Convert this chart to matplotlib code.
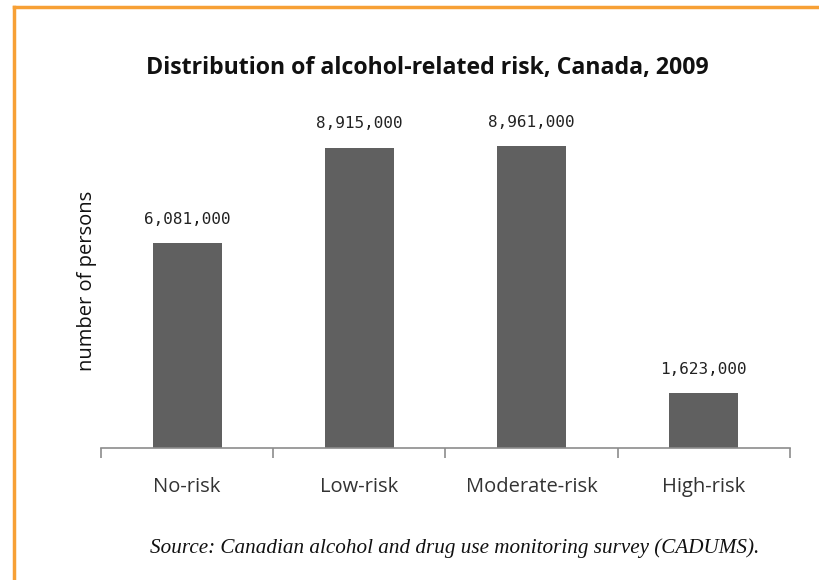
import matplotlib
matplotlib.use("Agg")
import matplotlib.pyplot as plt
from matplotlib.lines import Line2D

categories = ["No-risk", "Low-risk", "Moderate-risk", "High-risk"]
values = [6081000, 8915000, 8961000, 1623000]
value_labels = ["6,081,000", "8,915,000", "8,961,000", "1,623,000"]

fig = plt.figure(figsize=(8.2, 5.8), dpi=100)
W, H = 820, 580
ax = fig.add_axes([101 / W, 1 - 448 / H, (790 - 101) / W, (448 - 111.5) / H])

x = list(range(len(categories)))
ax.bar(x, values, width=0.40, color="#606060", zorder=2)
ax.set_xlim(-0.5, len(categories) - 0.5)
ax.set_ylim(0, 10000000)

for s in ["top", "right", "left"]:
    ax.spines[s].set_visible(False)
ax.spines["bottom"].set_color("#8c8c8c")
ax.spines["bottom"].set_linewidth(1.2)
ax.set_yticks([])
ax.set_xticks([i - 0.5 for i in range(len(categories) + 1)])
ax.set_xticklabels([])
ax.tick_params(axis="x", length=7, color="#8c8c8c", width=1.2, direction="out")
for i, c in enumerate(categories):
    ax.text(i, -0.85e6, c, ha="center", va="top", fontsize=14.5,
            family="Open Sans", color="#333333")

for i, (v, lab) in enumerate(zip(values, value_labels)):
    ax.annotate(lab, (i, v), xytext=(0, 12), textcoords="offset points",
                ha="center", va="bottom", fontsize=11.5, family="DejaVu Sans Mono",
                color="#222222")

fig.text(87 / W, 1 - 281 / H, "number of persons", rotation=90,
         ha="center", va="center", fontsize=14.5, family="Open Sans",
         color="#111111")

fig.text(427 / W, 1 - 68 / H, "Distribution of alcohol-related risk, Canada, 2009",
         ha="center", va="center", fontsize=16.7, fontweight="bold",
         family="Open Sans", color="#111111")

fig.text(455 / W, 1 - 548 / H,
         "Source: Canadian alcohol and drug use monitoring survey (CADUMS).",
         ha="center", va="center", fontsize=15.2, style="italic",
         family="Liberation Serif", color="#111111")

# orange frame (top and left edges visible)
fig.add_artist(Line2D([14.5 / W, 14.5 / W], [0, 1 - 6.5 / H], transform=fig.transFigure,
                      color="#f7a035", lw=2.5))
fig.add_artist(Line2D([14.5 / W, 1], [1 - 6.5 / H, 1 - 6.5 / H], transform=fig.transFigure,
                      color="#f7a035", lw=2.5))

fig.savefig("out.png", dpi=100)
